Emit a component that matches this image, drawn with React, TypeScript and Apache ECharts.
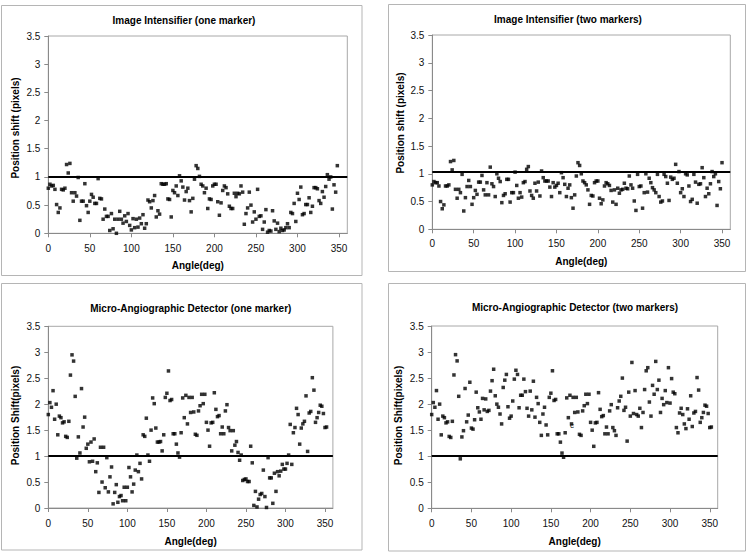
import { useEffect, useRef } from "react";
import * as echarts from "echarts";

// Measured angles (deg)
const angles = [
  0, 2, 4, 6, 8, 10, 12, 14, 16, 18, 20, 22, 24, 26, 28, 30, 32, 34, 36, 38,
  40, 42, 44, 46, 48, 50, 52, 54, 56, 58, 60, 62, 64, 66, 68, 70, 72, 74, 76, 78,
  80, 82, 84, 86, 88, 90, 92, 94, 96, 98, 100, 102, 104, 106, 108, 110, 112, 114, 116, 118,
  120, 122, 124, 126, 128, 130, 132, 134, 136, 138, 140, 142, 144, 146, 148, 150, 152, 154, 156, 158,
  160, 162, 164, 166, 168, 170, 172, 174, 176, 178, 180, 182, 184, 186, 188, 190, 192, 194, 196, 198,
  200, 202, 204, 206, 208, 210, 212, 214, 216, 218, 220, 222, 224, 226, 228, 230, 232, 234, 236, 238,
  240, 242, 244, 246, 248, 250, 252, 254, 256, 258, 260, 262, 264, 266, 268, 270, 272, 274, 276, 278,
  280, 282, 284, 286, 288, 290, 292, 294, 296, 298, 300, 302, 304, 306, 308, 310, 312, 314, 316, 318,
  320, 322, 324, 326, 328, 330, 332, 334, 336, 338, 340, 342, 344, 346, 348, 350, 352,
];

const intensifierOne = [
  0.8, 0.87, 0.84, 0.85, 0.78, 0.51, 0.37, 0.45, 0.78, 0.77,
  0.8, 1.22, 1.07, 1.24, 0.72, 0.57, 0.72, 0.66, 0.99, 0.23,
  0.57, 0.57, 0.88, 0.49, 0.37, 0.57, 0.69, 0.64, 0.53, 0.53,
  0.97, 0.62, 0.61, 0.25, 0.43, 0.3, 0.3, 0.05, 0.35, 0.08,
  0.25, 0.0, 0.25, 0.39, 0.25, 0.18, 0.31, 0.21, 0.35, 0.14,
  0.06, 0.26, 0.1, 0.25, 0.11, 0.27, 0.17, 0.33, 0.09, 0.17,
  0.59, 0.56, 0.45, 0.58, 0.67, 0.29, 0.4, 0.34, 0.88, 0.87,
  0.87, 0.88, 0.61, 0.6, 0.29, 0.76, 0.72, 0.84, 0.67, 1.02,
  0.93, 0.82, 0.59, 0.74, 0.8, 0.58, 0.38, 0.62, 0.96, 1.2,
  1.15, 1.01, 0.87, 0.84, 0.72, 0.8, 0.44, 0.61, 0.6, 0.84,
  0.87, 0.87, 0.56, 0.32, 0.54, 0.76, 0.84, 0.81, 0.7, 0.48,
  0.44, 0.44, 0.71, 0.65, 0.71, 0.7, 0.84, 0.73, 0.16, 0.35,
  0.45, 0.73, 0.5, 0.2, 0.38, 0.25, 0.78, 0.3, 0.31, 0.07,
  0.2, 0.42, 0.02, 0.05, 0.04, 0.4, 0.22, 0.07, 0.18, 0.03,
  0.09, 0.05, 0.06, 0.1, 0.17, 0.1, 0.37, 0.35, 0.53, 0.21,
  0.71, 0.6, 0.82, 0.33, 0.35, 0.51, 0.51, 0.63, 0.37, 0.48,
  0.81, 0.81, 0.79, 0.58, 0.53, 0.74, 0.64, 0.83, 1.04, 0.96,
  1.0, 0.43, 0.86, 0.73, 1.2,
];

const intensifierTwo = [
  0.8, 0.86, 0.84, 0.84, 0.78, 0.5, 0.37, 0.44, 0.78, 0.78,
  0.8, 1.22, 1.07, 1.24, 0.72, 0.56, 0.72, 0.66, 0.99, 0.33,
  0.57, 0.77, 0.88, 0.77, 0.45, 0.57, 0.7, 0.63, 0.85, 0.85,
  0.97, 0.71, 0.62, 0.84, 0.62, 1.12, 0.82, 0.77, 0.59, 1.0,
  0.92, 0.86, 0.48, 0.61, 0.64, 0.9, 0.9, 0.49, 0.66, 0.66,
  1.03, 0.79, 0.56, 0.66, 0.58, 0.84, 0.86, 1.08, 1.13, 0.69,
  0.61, 0.56, 0.83, 0.69, 0.85, 0.6, 1.05, 0.93, 0.87, 0.87,
  0.87, 0.76, 0.59, 0.84, 0.76, 0.79, 0.83, 0.66, 1.02, 0.93,
  0.81, 0.59, 0.74, 0.8, 0.57, 0.38, 0.62, 0.96,
  1.2, 1.15, 1.0, 0.87, 0.84, 0.8, 0.71, 0.45, 0.61, 0.6,
  0.84, 0.87, 0.87, 0.56, 0.46, 0.53, 0.78, 0.84, 0.82, 0.79,
  0.7, 0.49, 0.71, 0.45, 0.74, 0.65, 0.71, 0.72, 0.83, 0.74,
  0.73, 0.96, 0.8, 0.74, 0.51, 0.34, 0.99, 0.77, 0.78, 0.38,
  0.66, 1.0, 0.67, 0.92, 0.84, 0.75, 0.71, 0.66, 0.99, 0.59,
  0.49, 0.51, 0.99, 0.95, 0.83, 0.52, 0.94, 0.9, 0.92, 1.17,
  0.83, 1.04, 0.66, 0.73, 0.59, 1.0, 0.98, 0.78, 0.5, 0.54,
  0.99, 0.85, 0.47, 0.81, 0.82, 1.11, 0.93, 0.59, 0.74, 0.64,
  0.82, 1.04, 0.95, 1.0, 0.43, 0.86, 0.73, 1.2,
];

const madOne = [
  1.8, 2.03, 1.94, 2.26, 1.71, 2.0, 1.41, 1.77, 1.74, 1.64,
  1.66, 1.38, 1.36, 1.67, 2.56, 2.95, 2.83, 2.15, 0.96, 1.37,
  1.06, 2.3, 1.56, 1.75, 1.15, 1.23, 0.89, 1.27, 0.9, 1.33,
  0.7, 0.87, 0.3, 1.17, 0.5, 1.17, 0.39, 0.97, 0.31, 0.6,
  0.79, 0.08, 0.3, 0.45, 0.11, 0.22, 0.24, 0.14, 0.4, 0.14,
  0.4, 0.78, 0.6, 0.31, 0.46, 0.73, 1.02, 0.7, 0.86, 0.56,
  1.41, 1.38, 1.73, 1.02, 0.9, 1.5, 2.12, 2.01, 1.54, 1.27,
  1.27, 1.28, 1.1, 1.41, 2.13, 2.21, 2.64, 2.07, 2.09, 1.43,
  1.43, 1.23, 1.06, 0.98, 1.45, 2.12, 1.74, 2.17, 1.62, 2.13,
  1.84, 2.13, 1.85, 1.42, 1.4, 1.87, 1.97, 2.19, 2.01, 2.19,
  1.65, 1.5, 1.19, 1.64, 1.65, 2.22, 1.9, 1.76, 1.78, 1.43,
  1.56, 1.43, 1.87, 1.99, 1.55, 1.49, 1.1, 1.49, 1.21, 1.28,
  1.07, 0.92, 1.02, 0.53, 0.55, 0.56, 0.51, 0.51, 1.19, 0.87,
  0.05, 0.32, 0.02, 0.17, 0.26, 0.28, 0.73, 0.22, 0.01, 0.97,
  0.58, 0.58, 0.09, 0.67, 0.32, 0.7, 0.62, 0.71, 0.84, 0.75,
  0.75, 0.86, 1.02, 1.61, 0.84, 1.45, 1.55, 1.92, 1.8, 1.23,
  1.54, 1.62, 1.67, 2.16, 1.09, 1.83, 1.86, 2.51, 2.27, 1.65,
  1.74, 1.84, 1.98, 1.96, 1.82, 1.55, 1.56,
];

const madTwo = [
  1.8, 2.03, 1.94, 2.26, 1.71, 2.0, 1.41, 1.77, 1.74, 1.64,
  1.66, 1.38, 1.36, 1.67, 2.56, 2.95, 2.83, 2.15, 0.95, 1.37,
  1.49, 2.3, 1.66, 1.79, 2.42, 1.54, 1.52, 1.7, 2.23, 1.93,
  1.85, 1.71, 2.11, 1.89, 2.1, 1.86, 1.88, 2.25, 2.45, 2.67,
  2.16, 2.0, 1.94, 1.81, 1.62, 2.32, 2.46, 2.57, 1.95, 1.73,
  1.77, 2.06, 2.48, 2.65, 2.57, 1.93, 2.17, 2.17, 2.48, 2.24,
  1.92, 1.77, 2.25, 1.89, 2.44, 1.75, 2.13, 2.01, 1.65, 1.4,
  1.81, 1.94, 1.6, 1.41, 2.13, 2.21, 2.64, 2.07, 2.09, 1.43,
  1.43, 1.27, 1.06, 0.98, 1.45, 2.12, 1.74, 2.17, 1.62, 2.13,
  1.84, 2.13, 1.85, 1.42, 1.4, 1.87, 1.97, 2.19, 2.01, 2.19,
  1.65, 1.5, 1.19, 1.64, 1.65, 2.22, 1.9, 1.76, 1.78, 1.43,
  1.56, 1.43, 1.87, 1.99, 1.55, 1.49, 1.4, 1.93, 2.06, 2.15,
  2.5, 1.88, 1.94, 1.29, 2.23, 1.77, 2.8, 1.82, 2.26, 1.8,
  1.77, 1.92, 1.55, 1.84, 2.28, 2.64, 2.7, 2.04, 1.77, 2.36,
  2.19, 2.82, 2.28, 2.46, 1.84, 2.11, 1.99, 2.26, 2.03, 2.7,
  2.02, 2.49, 2.23, 2.2, 1.55, 1.45, 1.83, 1.92, 1.8, 1.62,
  1.53, 1.91, 1.71, 2.16, 1.57, 1.83, 1.86, 2.51, 2.27, 1.65,
  1.74, 1.84, 1.98, 1.96, 1.82, 1.55, 1.56,
];

const seriesValues = [intensifierOne, intensifierTwo, madOne, madTwo];
const chartTitles = [
  "Image Intensifier (one marker)",
  "Image Intensifier (two markers)",
  "Micro-Angiographic Detector (one marker)",
  "Micro-Angiographic Detector (two markers)",
];
const yAxisNames = [
  "Position shift (pixels)",
  "Position shift (pixels)",
  "Position Shift(pixels)",
  "Position Shift(pixels)",
];
const xAxisName = "Angle(deg)";
const thresholds = [1, 1.03, 1, 1];
const xTickValues = [0, 50, 100, 150, 200, 250, 300, 350];

// Layout (pixels)
const layout = [
  { box: [1.5, 5.5, 360.5, 270], grid: [48.3, 36, 299, 197.3], title: [184, 20.5], yName: [15, 128], xNameY: 265, xMargin: 10 },
  { box: [388.5, 4.5, 357, 267], grid: [432.3, 35, 298, 194.3], title: [568, 19.5], yName: [400.5, 123], xNameY: 261.5, xMargin: 9.5 },
  { box: [1.5, 283.5, 360.5, 266.5], grid: [48.3, 326.3, 284.6, 181.7], title: [190.8, 308.5], yName: [15, 415.5], xNameY: 541, xMargin: 10 },
  { box: [388.5, 283.5, 357, 267.5], grid: [431.7, 326, 286, 182.3], title: [575, 307.5], yName: [398.5, 415.5], xNameY: 541, xMargin: 10 },
];

const FONT = "'Liberation Sans', Arial, sans-serif";
const AXIS_GRAY = "#8a8a8a";

export default function App() {
  const ref = useRef<HTMLDivElement>(null);

  useEffect(() => {
    if (!ref.current) return;
    const chart = echarts.init(ref.current, undefined, { renderer: "svg" });

    const grids = layout.map((l) => ({
      left: l.grid[0],
      top: l.grid[1],
      width: l.grid[2],
      height: l.grid[3],
      show: true,
      borderColor: "#a8a8a8",
      borderWidth: 1,
      backgroundColor: "transparent",
      containLabel: false,
      outerBoundsMode: "none",
    }));

    const xAxes = layout.map((l, i) => ({
      gridIndex: i,
      type: "value",
      min: 0,
      max: 360,
      interval: 50,
      axisLine: { show: true, onZero: false, lineStyle: { color: AXIS_GRAY, width: 1 } },
      axisTick: { show: true, length: 4, customValues: xTickValues, lineStyle: { color: AXIS_GRAY } },
      axisLabel: {
        customValues: xTickValues,
        margin: l.xMargin,
        fontFamily: FONT,
        fontSize: 10,
        color: "#111",
      },
      splitLine: { show: false },
    }));

    const yAxes = layout.map((_, i) => ({
      gridIndex: i,
      type: "value",
      min: 0,
      max: 3.5,
      interval: 0.5,
      axisLine: { show: true, onZero: false, lineStyle: { color: AXIS_GRAY, width: 1 } },
      axisTick: { show: true, length: 4, lineStyle: { color: AXIS_GRAY } },
      axisLabel: { margin: 8, fontFamily: FONT, fontSize: 10, color: "#111" },
      splitLine: { show: false },
    }));

    const series = seriesValues.map((vals, i) => ({
      type: "scatter",
      xAxisIndex: i,
      yAxisIndex: i,
      symbol: "rect",
      symbolSize: 3.5,
      itemStyle: { color: "#000" },
      data: vals.map((v, k) => [angles[k], v]),
      markLine: {
        silent: true,
        symbol: "none",
        label: { show: false },
        lineStyle: { color: "#000", width: 2, type: "solid" },
        data: [{ yAxis: thresholds[i] }],
      },
    }));

    const graphics: any[] = [];
    layout.forEach((l, i) => {
      graphics.push({
        type: "rect",
        shape: { x: l.box[0], y: l.box[1], width: l.box[2], height: l.box[3] },
        style: { fill: "none", stroke: "#b5b5b5", lineWidth: 1 },
        z: -1,
      });
      graphics.push({
        type: "text",
        x: l.title[0],
        y: l.title[1],
        style: {
          text: chartTitles[i],
          fontFamily: FONT,
          fontSize: 10,
          fontWeight: "bold",
          fill: "#000",
          align: "center",
          verticalAlign: "middle",
        },
      });
      graphics.push({
        type: "text",
        x: l.yName[0],
        y: l.yName[1],
        rotation: Math.PI / 2,
        style: {
          text: yAxisNames[i],
          fontFamily: FONT,
          fontSize: 10,
          fontWeight: "bold",
          fill: "#000",
          align: "center",
          verticalAlign: "middle",
        },
      });
      graphics.push({
        type: "text",
        x: l.grid[0] + l.grid[2] / 2,
        y: l.xNameY,
        style: {
          text: xAxisName,
          fontFamily: FONT,
          fontSize: 10,
          fontWeight: "bold",
          fill: "#000",
          align: "center",
          verticalAlign: "middle",
        },
      });
    });
    graphics.push({
      type: "text",
      x: 572,
      y: 425,
      style: {
        text: "c",
        fontFamily: FONT,
        fontSize: 8,
        fill: "#222",
        align: "center",
        verticalAlign: "middle",
      },
    });

    chart.setOption({
      animation: false,
      backgroundColor: "#fff",
      grid: grids,
      xAxis: xAxes,
      yAxis: yAxes,
      series,
      graphic: graphics,
    } as any);

    return () => chart.dispose();
  }, []);

  return (
    <div
      ref={ref}
      style={{ position: "absolute", left: 0, top: 0, width: 751, height: 556, background: "#fff" }}
    />
  );
}
